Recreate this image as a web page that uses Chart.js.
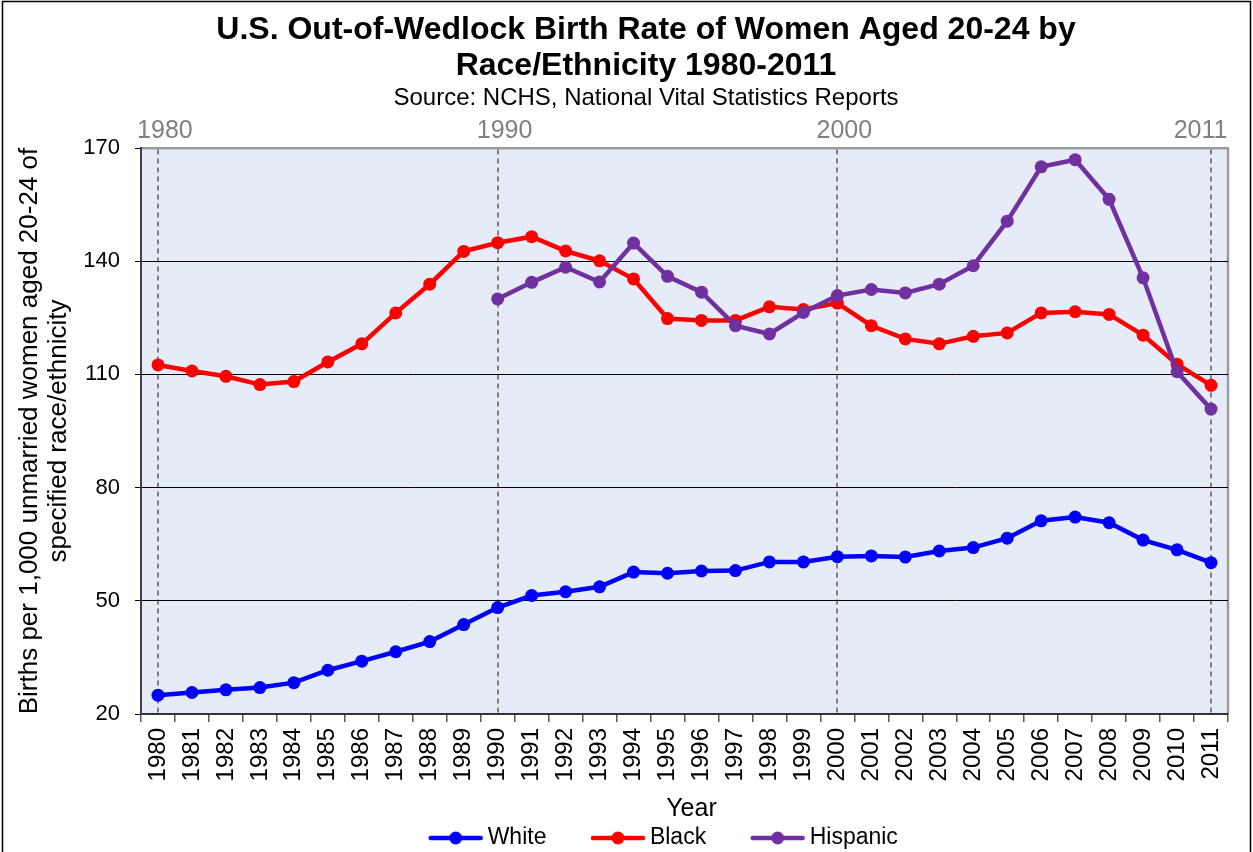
<!DOCTYPE html>
<html>
<head>
<meta charset="utf-8">
<script src="https://cdn.jsdelivr.net/npm/chart.js@4.4.1/dist/chart.umd.min.js"></script>
<style>
  html, body { margin: 0; padding: 0; background: #fff; }
  #wrap { width: 1253px; height: 852px; position: relative; }
</style>
</head>
<body>
<div id="wrap"><canvas id="chart" width="1253" height="852"></canvas></div>
<script>
// años
const years = ['1980','1981','1982','1983','1984','1985','1986','1987','1988','1989',
  '1990','1991','1992','1993','1994','1995','1996','1997','1998','1999',
  '2000','2001','2002','2003','2004','2005','2006','2007','2008','2009','2010','2011'];

const whiteRates = [25.0, 25.7, 26.4, 27.0, 28.3, 31.6, 34.0, 36.5, 39.2, 43.7,
  48.2, 51.4, 52.4, 53.7, 57.6, 57.3, 57.9, 58.0, 60.3, 60.3,
  61.7, 61.9, 61.6, 63.2, 64.1, 66.6, 71.2, 72.2, 70.7, 66.1, 63.5, 60.1];

const blackRates = [112.5, 110.9, 109.5, 107.3, 108.1, 113.3, 118.1, 126.3, 133.9, 142.6,
  144.9, 146.5, 142.7, 140.1, 135.3, 124.8, 124.3, 124.3, 127.9, 127.2,
  128.9, 122.9, 119.4, 118.1, 120.1, 121.0, 126.3, 126.6, 125.9, 120.4, 112.7, 107.1];

const hispanicRates = [null, null, null, null, null, null, null, null, null, null,
  130.0, 134.4, 138.4, 134.5, 144.8, 136.0, 131.8, 122.9, 120.7, 126.4,
  130.9, 132.5, 131.6, 133.9, 138.8, 150.6, 165.0, 166.9, 156.4, 135.6, 110.7, 100.8];

const markedYears = ['1980', '1990', '2000', '2011'];
const yTicks = [20, 50, 80, 110, 140, 170];

const FONT = 'Liberation Sans, Arial, sans-serif';
const SUBTITLE = 'Source: NCHS, National Vital Statistics Reports';

// icono de leyenda: línea con punto (con hueco transparente a la izquierda)
const ICON_W = 107, ICON_H = 16, ICON_VISIBLE = 56;
function legendIcon(color) {
  const c = document.createElement('canvas');
  c.width = ICON_W; c.height = ICON_H;
  const g = c.getContext('2d');
  const x0 = ICON_W - ICON_VISIBLE;
  g.strokeStyle = color;
  g.lineWidth = 4.5;
  g.lineCap = 'round';
  g.beginPath(); g.moveTo(x0 + 3, 8); g.lineTo(ICON_W - 3, 8); g.stroke();
  g.fillStyle = color;
  g.beginPath(); g.arc(x0 + ICON_VISIBLE / 2, 8, 6.5, 0, Math.PI * 2); g.fill();
  return c;
}

// fondo del área del gráfico y marco
const framePlugin = {
  id: 'frame',
  afterLayout(chart) {
    // mover la leyenda a su sitio
    const lg = chart.legend;
    const dy = 838 - (lg.top + 11.5);
    const dx = 23;
    lg.top += dy; lg.bottom += dy;
    lg.left += dx; lg.right += dx;
    // centrar título y subtítulo como en el original
    chart.boxes.forEach(b => {
      if (b === chart.titleBlock || (b.options && b.options.text === SUBTITLE)) {
        b.left += 28; b.right += 28;
      }
    });
  },
  beforeDraw(chart) {
    const {ctx, chartArea: a} = chart;
    ctx.save();
    ctx.fillStyle = '#fff';
    ctx.fillRect(0, 0, chart.width, chart.height);
    ctx.strokeStyle = '#000';
    ctx.lineWidth = 1.5;
    ctx.strokeRect(2.5, 1.5, chart.width - 5, chart.height + 10);
    ctx.fillStyle = '#E6ECF7';
    ctx.fillRect(a.left, a.top, a.right - a.left, a.bottom - a.top);
    ctx.strokeStyle = '#9a9a9a';
    ctx.lineWidth = 2.5;
    ctx.beginPath();
    ctx.moveTo(a.right, a.top);
    ctx.lineTo(a.right, a.bottom);
    ctx.stroke();
    ctx.restore();
  }
};

const series = [
  {label: 'White', data: whiteRates, color: '#0000FF', order: 3},
  {label: 'Black', data: blackRates, color: '#FF0000', order: 2},
  {label: 'Hispanic', data: hispanicRates, color: '#7030A0', order: 1}
];

const config = {
  type: 'line',
  data: {
    labels: years,
    datasets: series.map(s => ({
      label: s.label,
      data: s.data,
      borderColor: s.color,
      backgroundColor: s.color,
      pointBackgroundColor: s.color,
      pointBorderWidth: 0,
      pointRadius: 6.5,
      borderWidth: 4.5,
      tension: 0,
      spanGaps: false,
      order: s.order,
      xAxisID: 'x',
      yAxisID: 'y'
    }))
  },
  options: {
    responsive: false,
    animation: false,
    layout: {padding: {left: 8, right: 25, top: 0, bottom: 0}},
    plugins: {
      title: {
        display: true,
        text: ['U.S. Out-of-Wedlock Birth Rate of Women Aged 20-24 by', 'Race/Ethnicity 1980-2011'],
        color: '#000',
        font: {family: FONT, size: 32, weight: 'bold', lineHeight: 1.125},
        padding: {top: 12, bottom: 0}
      },
      subtitle: {
        display: true,
        text: SUBTITLE,
        color: '#000',
        font: {family: FONT, size: 24, lineHeight: 1.1},
        padding: {top: 1, bottom: 0}
      },
      legend: {
        position: 'bottom',
        labels: {
          color: '#000',
          font: {family: FONT, size: 23},
          usePointStyle: true,
          pointStyleWidth: 92,
          padding: 0,
          generateLabels: chart => chart.data.datasets.map((ds, i) => ({
            text: ds.label,
            pointStyle: legendIcon(ds.borderColor),
            fontColor: '#000',
            hidden: !chart.isDatasetVisible(i),
            datasetIndex: i,
            lineWidth: 0
          }))
        }
      },
      tooltip: {enabled: false}
    },
    scales: {
      x: {
        type: 'category',
        position: 'bottom',
        offset: true,
        grid: {
          offset: true,
          drawOnChartArea: false,
          color: '#555',
          lineWidth: 1.5,
          tickLength: 8
        },
        border: {display: true, color: '#333', width: 2},
        ticks: {
          color: '#000',
          font: {family: FONT, size: 24},
          minRotation: 90,
          maxRotation: 90,
          autoSkip: false,
          padding: 6
        },
        title: {
          display: true,
          text: '  Year',
          color: '#000',
          font: {family: FONT, size: 25, lineHeight: 1},
          padding: {top: 0, bottom: -2.5}
        },
        afterFit: scale => { scale.height = 105; }
      },
      xTop: {
        type: 'category',
        position: 'top',
        offset: true,
        labels: years,
        grid: {
          offset: false,
          drawOnChartArea: true,
          drawTicks: false,
          lineWidth: 2,
          color: ctx => (ctx.tick && markedYears.includes(years[ctx.index])) ? '#808080' : 'rgba(0,0,0,0)'
        },
        border: {display: true, color: '#9a9a9a', width: 2.5, dash: [5, 4]},
        ticks: {
          color: '#808080',
          font: {family: FONT, size: 25},
          autoSkip: false,
          maxRotation: 0,
          padding: 2,
          callback: function (value, index) {
            const yr = years[index];
            if (!markedYears.includes(yr)) return '';
            return yr === '2011' ? yr + '   ' : '  ' + yr;
          }
        },
        afterFit: scale => { scale.height = 36.6; }
      },
      y: {
        min: 20,
        max: 170,
        afterBuildTicks: scale => { scale.ticks = yTicks.map(v => ({value: v})); },
        grid: {
          color: '#000',
          lineWidth: 1,
          tickLength: 6
        },
        border: {display: true, color: '#404040', width: 2},
        ticks: {
          color: '#000',
          font: {family: FONT, size: 22},
          padding: 15
        },
        title: {
          display: true,
          text: ['Births per 1,000 unmarried women aged 20-24 of', 'specified race/ethnicity'],
          color: '#000',
          font: {family: FONT, size: 26, lineHeight: 1.115},
          padding: {top: 7.5, bottom: 0}
        },
        afterFit: scale => { scale.width = 133; }
      }
    }
  },
  plugins: [framePlugin]
};

const ctx = document.getElementById('chart').getContext('2d');
const chart = new Chart(ctx, config);
</script>
</body>
</html>
